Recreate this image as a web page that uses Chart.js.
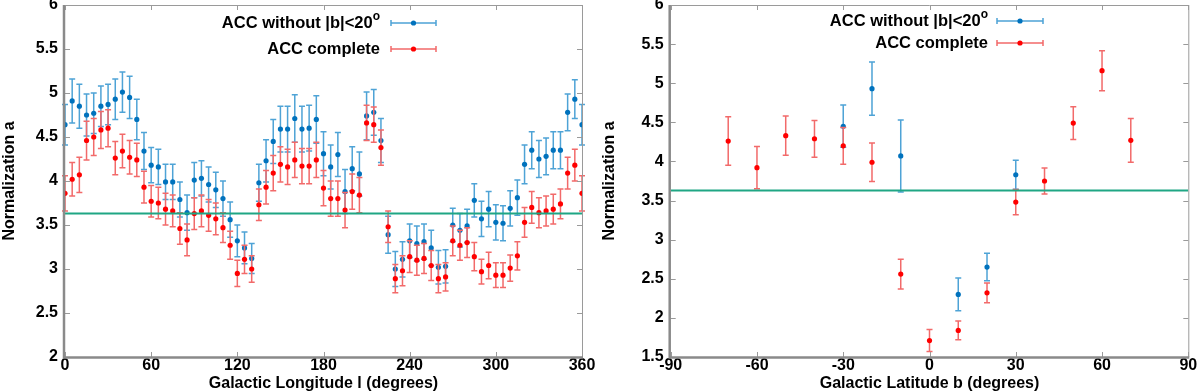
<!DOCTYPE html>
<html>
<head>
<meta charset="utf-8">
<script src="https://cdn.jsdelivr.net/npm/chart.js@4.4.1/dist/chart.umd.min.js"></script>
<style>
    body { margin: 0; background: #fff; }
    #wrap { display: flex; width: 1200px; height: 392px; }
    canvas { display: block; }
</style>
</head>
<body>
<div id="wrap">
    <canvas id="lonChart" width="600" height="392"></canvas>
    <canvas id="latChart" width="600" height="392"></canvas>
</div>
<script>
// ---- data ----
let lonDeg = [0,5,10,15,20,25,30,35,40,45,50,55,60,65,70,75,80,85,90,95,100,105,110,115,120,125,130,135,140,145,150,155,160,165,170,175,180,185,190,195,200,205,210,215,220,225,230,235,240,245,250,255,260,265,270,275,280,285,290,295,300,305,310,315,320,325,330,335,340,345,350,355,360];

let lonBlue = [4.64,4.91,4.85,4.75,4.77,4.85,4.87,4.93,5.01,4.95,4.70,4.34,4.18,4.16,3.99,3.99,3.79,3.64,4.01,4.03,3.96,3.90,3.80,3.56,3.32,3.24,3.12,3.98,4.23,4.45,4.59,4.59,4.71,4.59,4.60,4.70,4.31,4.16,4.30,3.88,4.14,4.08,4.74,4.78,4.46,3.39,3.00,3.11,3.32,3.29,3.31,3.24,3.02,3.03,3.50,3.44,3.49,3.78,3.57,3.68,3.53,3.52,3.69,3.81,4.19,4.35,4.25,4.28,4.35,4.35,4.78,4.93,4.64];
let lonBlueErr = [0.23,0.25,0.25,0.24,0.23,0.23,0.23,0.23,0.23,0.24,0.23,0.21,0.2,0.2,0.2,0.2,0.2,0.2,0.2,0.2,0.2,0.2,0.2,0.2,0.18,0.18,0.17,0.21,0.24,0.25,0.26,0.26,0.27,0.26,0.26,0.27,0.25,0.25,0.25,0.25,0.25,0.25,0.27,0.26,0.25,0.21,0.2,0.2,0.19,0.2,0.2,0.2,0.19,0.19,0.19,0.19,0.19,0.19,0.2,0.2,0.2,0.2,0.2,0.2,0.22,0.21,0.21,0.21,0.21,0.21,0.21,0.22,0.23];

let lonRed = [3.86,4.02,4.07,4.46,4.50,4.58,4.60,4.26,4.34,4.27,4.24,3.93,3.77,3.75,3.68,3.66,3.46,3.33,3.63,3.66,3.61,3.57,3.47,3.27,2.95,3.11,3.00,3.73,3.93,4.09,4.19,4.16,4.24,4.17,4.17,4.24,3.92,3.80,3.80,3.67,3.88,3.84,4.66,4.64,4.38,3.48,2.89,2.98,3.14,3.10,3.12,3.04,2.89,2.91,3.32,3.27,3.30,3.14,2.97,3.04,2.93,2.93,3.01,3.15,3.53,3.70,3.64,3.66,3.68,3.74,4.09,4.18,3.86];
let lonRedErr = [0.2,0.19,0.2,0.22,0.21,0.21,0.21,0.19,0.19,0.19,0.19,0.18,0.18,0.18,0.18,0.18,0.18,0.18,0.18,0.18,0.18,0.18,0.17,0.16,0.15,0.16,0.15,0.18,0.19,0.2,0.2,0.2,0.2,0.2,0.2,0.2,0.2,0.2,0.2,0.2,0.2,0.2,0.2,0.2,0.2,0.18,0.16,0.17,0.18,0.17,0.17,0.17,0.16,0.16,0.17,0.17,0.17,0.16,0.14,0.15,0.14,0.14,0.15,0.16,0.17,0.18,0.17,0.17,0.17,0.17,0.18,0.18,0.2];

let latRedDeg = [-70,-60,-50,-40,-30,-20,-10,0,10,20,30,40,50,60,70];
let latRed = [4.26,3.92,4.33,4.29,4.20,3.99,2.56,1.71,1.84,2.32,3.48,3.75,4.49,5.16,4.27];
let latRedErr = [0.31,0.27,0.25,0.235,0.235,0.245,0.19,0.14,0.12,0.125,0.16,0.165,0.21,0.255,0.28];

let latBlueDeg = [-30,-20,-10,10,20,30];
let latBlue = [4.45,4.93,4.07,2.30,2.65,3.83];
let latBlueErr = [0.27,0.34,0.46,0.21,0.175,0.185];

let refLevel = 3.63;

let lonTicks = {min: 0, max: 360, step: 60};
let latTicks = {min: -90, max: 90, step: 30};
let lonYTicks = {min: 2, max: 6, step: 0.5};
let latYTicks = {min: 1.5, max: 6, step: 0.5};

let legendText = [
    {text: 'ACC without |b|<20', sup: 'o', color: '#0072bd', bar: '#4ea3d6'},
    {text: 'ACC complete', sup: '', color: '#ff0000', bar: '#f26a6a'}
];

const FONT = '"Liberation Sans", Arial, sans-serif';

// ---- plugins ----
const errorBars = {
    id: 'errorBars',
    beforeDatasetDraw(chart, args) {
        let ds = chart.data.datasets[args.index];
        if (!ds.errors) return;
        let ctx = chart.ctx, xs = chart.scales.x, ys = chart.scales.y;
        ctx.save();
        ctx.strokeStyle = ds.barColor;
        ctx.lineWidth = 1.5;
        ds.data.forEach((p, i) => {
            let px = xs.getPixelForValue(p.x);
            let top = ys.getPixelForValue(p.y + ds.errors[i]);
            let bot = ys.getPixelForValue(p.y - ds.errors[i]);
            ctx.beginPath();
            ctx.moveTo(px, top); ctx.lineTo(px, bot);
            ctx.moveTo(px - 3, top); ctx.lineTo(px + 3, top);
            ctx.moveTo(px - 3, bot); ctx.lineTo(px + 3, bot);
            ctx.stroke();
        });
        ctx.restore();
    }
};

const frameAndLegend = {
    id: 'frameAndLegend',
    afterDraw(chart, args, opts) {
        let ctx = chart.ctx, a = chart.chartArea;
        let xs = chart.scales.x, ys = chart.scales.y;
        ctx.save();
        // thin top / right
        ctx.strokeStyle = '#9a9a9a';
        ctx.lineWidth = 1;
        ctx.beginPath();
        ctx.moveTo(a.left, a.top + 0.5); ctx.lineTo(a.right, a.top + 0.5);
        ctx.moveTo(a.right + 0.5, a.top); ctx.lineTo(a.right + 0.5, a.bottom);
        // inward ticks
        xs.ticks.forEach(t => {
            let px = Math.round(xs.getPixelForValue(t.value)) + 0.5;
            ctx.moveTo(px, a.bottom); ctx.lineTo(px, a.bottom - 5);
            ctx.moveTo(px, a.top); ctx.lineTo(px, a.top + 5);
        });
        ys.ticks.forEach(t => {
            let py = Math.round(ys.getPixelForValue(t.value)) + 0.5;
            ctx.moveTo(a.left, py); ctx.lineTo(a.left + 5, py);
            ctx.moveTo(a.right, py); ctx.lineTo(a.right - 5, py);
        });
        ctx.stroke();
        // thick left / bottom
        ctx.strokeStyle = '#8a8a8a';
        ctx.lineWidth = 2.5;
        ctx.beginPath();
        ctx.moveTo(a.left - 1, a.top); ctx.lineTo(a.left - 1, a.bottom + 0.5);
        ctx.lineTo(a.right + 1, a.bottom + 0.5);
        ctx.stroke();

        // legend: text right aligned, sample to the right
        opts.rows.forEach((y, i) => {
            let item = legendText[i];
            ctx.fillStyle = '#000';
            ctx.textBaseline = 'middle';
            ctx.textAlign = 'left';
            ctx.font = 'bold 16.5px ' + FONT;
            let mainW = ctx.measureText(item.text).width;
            ctx.font = 'bold 12px ' + FONT;
            let supW = item.sup ? ctx.measureText(item.sup).width : 0;
            let x0 = opts.right - supW - mainW;
            ctx.font = 'bold 16.5px ' + FONT;
            ctx.fillText(item.text, x0, y);
            if (item.sup) {
                ctx.font = 'bold 12px ' + FONT;
                ctx.fillText(item.sup, x0 + mainW, y - 6);
            }
            ctx.strokeStyle = item.bar;
            ctx.lineWidth = 1.5;
            ctx.beginPath();
            ctx.moveTo(opts.x1, y); ctx.lineTo(opts.x2, y);
            ctx.moveTo(opts.x1, y - 3); ctx.lineTo(opts.x1, y + 3);
            ctx.moveTo(opts.x2, y - 3); ctx.lineTo(opts.x2, y + 3);
            ctx.stroke();
            ctx.fillStyle = item.color;
            ctx.beginPath();
            ctx.arc((opts.x1 + opts.x2) / 2, y, 2.6, 0, Math.PI * 2);
            ctx.fill();
        });
        ctx.restore();
    }
};

Chart.defaults.font.family = FONT;
Chart.defaults.font.size = 16;
Chart.defaults.font.weight = 'bold';
Chart.defaults.color = '#000';

function makeChart(id, cfg) {
    let blueData = cfg.blueX.map((v, i) => ({x: v, y: cfg.blueY[i]}));
    let redData = cfg.redX.map((v, i) => ({x: v, y: cfg.redY[i]}));

    return new Chart(document.getElementById(id), {
        type: 'scatter',
        data: {
            datasets: [
                {
                    label: 'reference',
                    data: [{x: cfg.xt.min, y: refLevel}, {x: cfg.xt.max, y: refLevel}],
                    showLine: true,
                    borderColor: '#1fa684',
                    borderWidth: 2,
                    pointRadius: 0
                },
                {
                    label: 'ACC complete',
                    data: redData,
                    errors: cfg.redErr,
                    barColor: legendText[1].bar,
                    backgroundColor: legendText[1].color,
                    borderColor: legendText[1].color,
                    pointRadius: 2.6,
                    borderWidth: 0
                },
                {
                    label: 'ACC without |b|<20°',
                    data: blueData,
                    errors: cfg.blueErr,
                    barColor: legendText[0].bar,
                    backgroundColor: legendText[0].color,
                    borderColor: legendText[0].color,
                    pointRadius: 2.6,
                    borderWidth: 0
                }
            ]
        },
        options: {
            responsive: false,
            animation: false,
            devicePixelRatio: 1,
            layout: { padding: {top: 5, right: cfg.padRight, left: 0, bottom: 0} },
            plugins: {
                legend: { display: false },
                tooltip: { enabled: false },
                frameAndLegend: cfg.legend
            },
            scales: {
                x: {
                    type: 'linear',
                    min: cfg.xt.min,
                    max: cfg.xt.max,
                    grid: { display: false, drawTicks: false },
                    border: { display: false },
                    ticks: { stepSize: cfg.xt.step, padding: 1, maxRotation: 0, autoSkip: false,
                             font: { size: 16, lineHeight: 1 } },
                    title: { display: true, text: cfg.xTitle, padding: {top: 0, bottom: -1} },
                    afterFit: (s) => { s.height = 35; s.paddingLeft = 0; s.paddingRight = 0; }
                },
                y: {
                    min: cfg.yt.min,
                    max: cfg.yt.max,
                    grid: { display: false, drawTicks: false },
                    border: { display: false },
                    ticks: { stepSize: cfg.yt.step, padding: 7, callback: (v) => `${v}` },
                    title: { display: true, text: 'Normalization a', padding: {top: 0, bottom: 0} },
                    afterFit: (s) => { s.width = cfg.yWidth; s.paddingTop = 0; s.paddingBottom = 0; }
                }
            }
        },
        plugins: [errorBars, frameAndLegend]
    });
}

makeChart('lonChart', {
    blueX: lonDeg, blueY: lonBlue, blueErr: lonBlueErr,
    redX: lonDeg, redY: lonRed, redErr: lonRedErr,
    xt: lonTicks, yt: lonYTicks,
    xTitle: 'Galactic Longitude l (degrees)',
    yWidth: 65, padRight: 18,
    legend: {right: 380, rows: [23, 49], x1: 391, x2: 436}
});

makeChart('latChart', {
    blueX: latBlueDeg, blueY: latBlue, blueErr: latBlueErr,
    redX: latRedDeg, redY: latRed, redErr: latRedErr,
    xt: latTicks, yt: latYTicks,
    xTitle: 'Galactic Latitude b (degrees)',
    yWidth: 70.7, padRight: 11.7,
    legend: {right: 388, rows: [21, 43], x1: 397, x2: 443}
});
</script>
</body>
</html>
